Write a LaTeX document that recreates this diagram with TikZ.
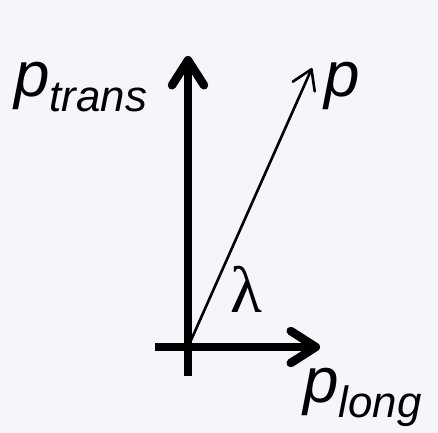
\documentclass[tikz,border=0pt]{standalone}
\usepackage{fontspec}
\setmainfont{Liberation Sans}
\newfontfamily\lambdafont{Liberation Serif}
\usetikzlibrary{arrows.meta}
\definecolor{slidebg}{RGB}{245,246,251}
\newcommand{\momlabel}[1]{%
  {\fontsize{64}{64}\selectfont\itshape p}%
  \raisebox{-15bp}{\fontsize{44}{44}\selectfont\itshape #1}%
}
\tikzset{
  axisarrow/.style={line width=8.5bp,-{Straight Barb[length=25bp,width=32bp,round]}},
  momarrow/.style={line width=2.6bp,-{Straight Barb[length=19bp,width=24bp,round]}},
  lab/.style={inner sep=0pt,anchor=base west}
}
\begin{document}
\begin{tikzpicture}[x=1bp,y=-1bp]
  \fill[slidebg] (0,0) rectangle (438,433);
  \useasboundingbox (0,0) rectangle (438,433);
  \coordinate (orig) at (188,347);
  \coordinate (transbot) at (188,376);
  \coordinate (transtop) at (188,56);
  \coordinate (longleft) at (155,347);
  \coordinate (longright) at (320,347);
  \coordinate (momtip) at (312,68);
  \draw[axisarrow] (transbot) -- (transtop);
  \draw[axisarrow] (longleft) -- (longright);
  \draw[momarrow] (orig) -- (momtip);
  \node[lab] (ptrans) at (14,97) {\momlabel{trans}};
  \node[lab] (pmom) at (324,97) {\fontsize{64}{64}\selectfont\itshape p};
  \node[lab] (plong) at (303,402) {\momlabel{long}};
  \node[lab] (lam) at (230,312) {\fontsize{66}{66}\selectfont\lambdafont λ};
\end{tikzpicture}
\end{document}
